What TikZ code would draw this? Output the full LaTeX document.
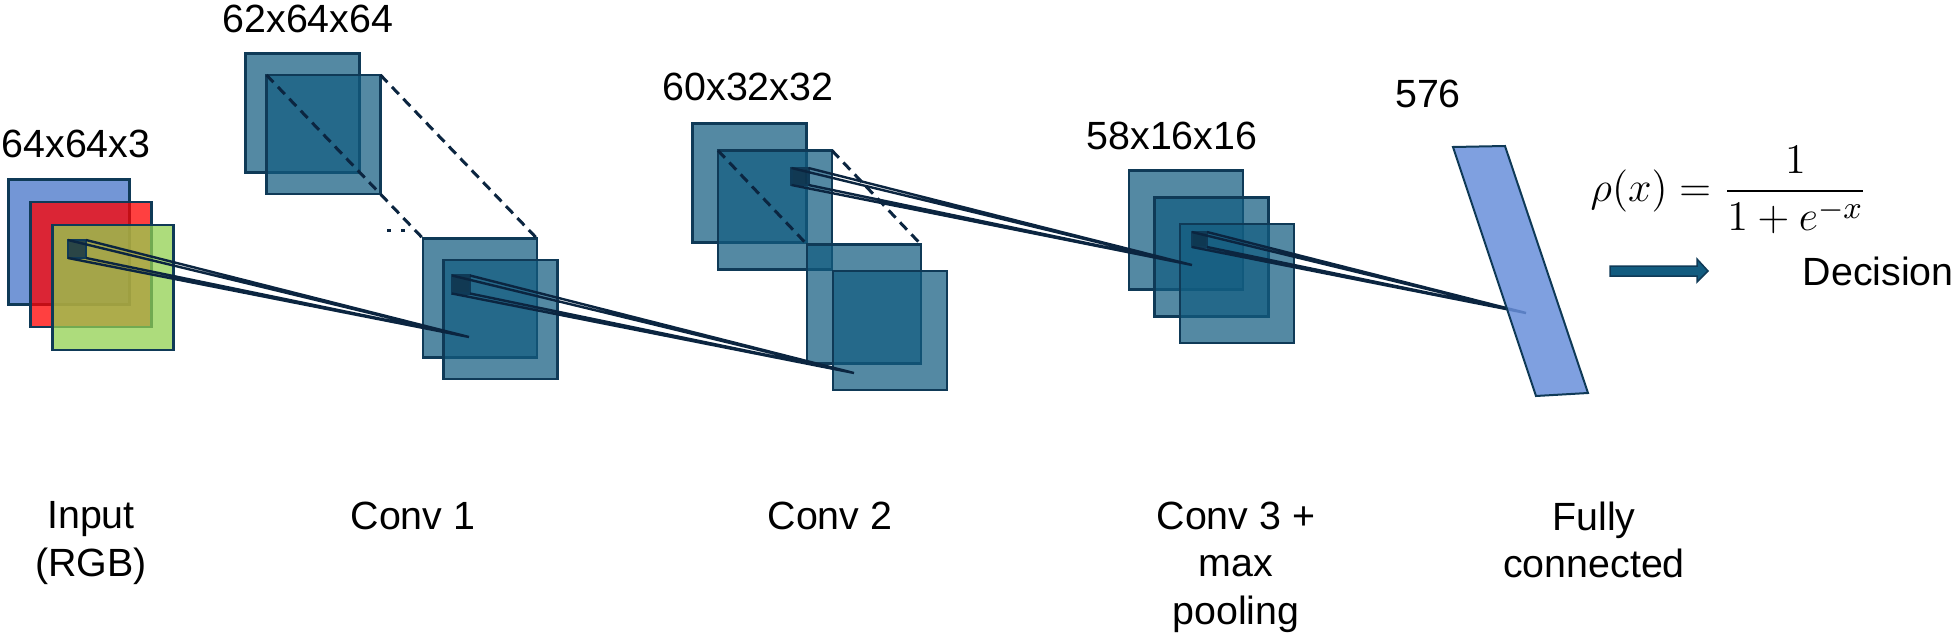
\documentclass[tikz,border=0pt]{standalone}
\usepackage{amsmath}
\usepackage[no-math]{fontspec}
\setmainfont{Liberation Sans}
\usetikzlibrary{calc}
\definecolor{edge}{HTML}{0F3A57}
\definecolor{mapfill}{RGB}{18,92,128}
\definecolor{rgbblue}{HTML}{7396D6}
\definecolor{rgbred}{HTML}{FF0000}
\definecolor{rgbgreen}{HTML}{92D050}
\definecolor{fcfill}{RGB}{104,143,219}
\definecolor{fanline}{HTML}{0B2540}

\begin{document}
\begin{tikzpicture}[x=0.1mm, y=-0.1mm,
  every node/.style={font=\fontsize{11.2}{13.5}\selectfont},
  fmap/.style={draw=edge, line width=0.28mm, fill=mapfill, fill opacity=0.72, inner sep=0, outer sep=0, minimum width=11.4mm, minimum height=11.9mm},
  chan/.style={draw=edge, line width=0.28mm, inner sep=0, outer sep=0, minimum width=12.1mm, minimum height=12.5mm},
  kern/.style={draw=edge, line width=0.25mm, fill=edge!80!black, fill opacity=0.8, inner sep=0, outer sep=0, minimum size=#1},
  fan/.style={draw=fanline, line width=0.24mm},
  cut/.style={draw=fanline, line width=0.3mm, dash pattern=on 1mm off 0.65mm},
  dims/.style={anchor=base},
  layer/.style={anchor=north, align=center, inner sep=0}]
\useasboundingbox (0,0) rectangle (1954,637);
% input image, three colour channels
\node[chan, fill=rgbblue] (in1) at (69,242) {};
\node[chan, fill=rgbred, fill opacity=0.75] (in2) at (91,264.5) {};
\node[chan, fill=rgbgreen, fill opacity=0.75] (in3) at (113,287.5) {};
% conv 1: maps before and after the stride
\node[fmap] (c1a) at (302.5,113) {}; \node[fmap] (c1b) at (323.5,134.5) {};
\node[fmap] (c1c) at (480,298) {}; \node[fmap] (c1d) at (500.5,319.5) {};
% conv 2
\node[fmap] (c2a) at (749.5,183) {}; \node[fmap] (c2b) at (775,210) {};
\node[fmap] (c2c) at (864,304) {}; \node[fmap] (c2d) at (890,330.5) {};
% conv 3 + pooling
\node[fmap] (c3a) at (1186,230) {}; \node[fmap] (c3b) at (1211.5,257) {}; \node[fmap] (c3c) at (1237,283.5) {};
% dashed guides between the map pairs
\draw[cut] (c1b.north west) -- (c1c.north west) (c1b.north east) -- (c1c.north east);
\draw[cut] (c2b.north west) -- (c2c.north west) (c2b.north east) -- (c2c.north east);
\draw[fanline, line width=0.3mm, dash pattern=on 0.35mm off 1.05mm] (387,230) -- (412,230);
% kernels and where they land
\node[kern=1.8mm] (k0) at (77,249) {}; \node[kern=1.8mm] (k1) at (461,284.5) {};
\node[kern=1.7mm] (k2) at (800,176.5) {}; \node[kern=1.5mm] (k3) at (1199.5,239.5) {};
\coordinate (t0) at (469,337); \coordinate (t1) at (854,373);
\coordinate (t2) at (1192,265); \coordinate (t3) at (1526,313);
\draw[fan] (k0.north west) -- (t0) (k0.north east) -- (t0) (k0.south west) -- (t0) (k0.south east) -- (t0);
\draw[fan] (k1.north west) -- (t1) (k1.north east) -- (t1) (k1.south west) -- (t1) (k1.south east) -- (t1);
\draw[fan] (k2.north west) -- (t2) (k2.north east) -- (t2) (k2.south west) -- (t2) (k2.south east) -- (t2);
\draw[fan] (k3.north west) -- (t3) (k3.north east) -- (t3) (k3.south west) -- (t3) (k3.south east) -- (t3);
% fully connected layer, tilted
\filldraw[draw=edge, line width=0.2mm, fill=fcfill, fill opacity=0.85] (1453,147) -- (1505,146) -- (1588,393) -- (1536,396) -- cycle;
% sizes
\node[dims] (d0) at (76,157) {64x64x3};
\node[dims] (d1) at (308,32) {62x64x64};
\node[dims] (d2) at (748,100) {60x32x32};
\node[dims] (d3) at (1172,149) {58x16x16};
\node[dims] (d4) at (1428,107) {576};
% layer names
\node[layer] (l0) at (91,501) {Input\\(RGB)};
\node[layer] (l1) at (413,501) {Conv 1};
\node[layer] (l2) at (830,501) {Conv 2};
\node[layer] (l3) at (1236,501) {Conv 3 +\\max\\pooling};
\node[layer] (l4) at (1594,501) {Fully\\connected};
% sigmoid and output
\node[anchor=west, inner sep=0, font=\fontsize{13}{15}\selectfont] (sig) at (1590,190) {$\rho(x) = \dfrac{1}{1+e^{-x}}$};
\filldraw[draw=edge, line width=0.15mm, fill=mapfill] (1610,266) -- (1697,266) -- (1697,259) -- (1708,271) -- (1697,282) -- (1697,276) -- (1610,276) -- cycle;
\node[anchor=base west, inner sep=0] (dec) at (1802,285) {Decision};
\end{tikzpicture}
\end{document}
